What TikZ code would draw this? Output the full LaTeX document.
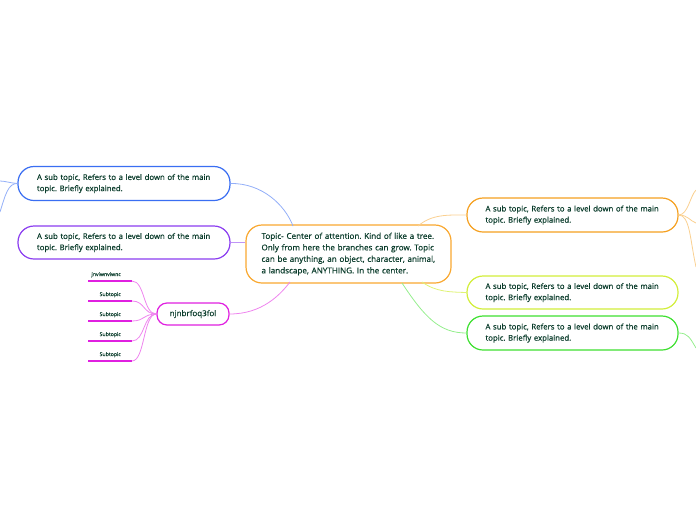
\documentclass[tikz,border=0pt]{standalone}
\usepackage{fontspec}
\setmainfont{Open Sans}[FakeBold=0.5]
\definecolor{txt}{HTML}{0B3D2C}
\definecolor{cblue}{HTML}{3A6EF2}
\definecolor{cpurple}{HTML}{8B3DF0}
\definecolor{ccenter}{HTML}{F9A830}
\definecolor{corange}{HTML}{F5A020}
\definecolor{cyellow}{HTML}{D2EE3A}
\definecolor{cgreen}{HTML}{3EE030}
\definecolor{cmag}{HTML}{E020E0}
\tikzset{
  topicbox/.style={draw, line width=1.2pt, rounded corners=16pt, fill=white, text=txt,
    align=left, inner xsep=0pt, inner ysep=0pt, font=\fontsize{7.8}{11.2}\selectfont},
  link/.style={line width=0.8pt},
  subline/.style={cmag, line width=1.6pt},
}
\begin{document}
\frenchspacing
\begin{tikzpicture}[x=1pt,y=-1pt]
\useasboundingbox (0,0) rectangle (696,520);
% boxes
\node[topicbox, draw=ccenter, minimum width=205pt, minimum height=58pt, text width=174pt,
  font=\fontsize{8.1}{11.5}\selectfont] (center) at (348.5,254)
  {Topic- Center of attention. Kind of like a tree. Only from here the branches can grow. Topic can be anything, an object, character, animal, a landscape, ANYTHING. In the center.};
\node[topicbox, draw=cblue, minimum width=212pt, minimum height=34pt, text width=174pt] (blue) at (124,183.5)
  {A sub topic, Refers to a level down of the main topic. Briefly explained.};
\node[topicbox, draw=cpurple, minimum width=212pt, minimum height=33pt, text width=174pt] (purple) at (124,242.5)
  {A sub topic, Refers to a level down of the main topic. Briefly explained.};
\node[topicbox, draw=corange, minimum width=211pt, minimum height=34pt, text width=174pt] (orange) at (572.5,215)
  {A sub topic, Refers to a level down of the main topic. Briefly explained.};
\node[topicbox, draw=cyellow, minimum width=211pt, minimum height=33pt, text width=174pt] (yellow) at (572.5,292.5)
  {A sub topic, Refers to a level down of the main topic. Briefly explained.};
\node[topicbox, draw=cgreen, minimum width=211pt, minimum height=34pt, text width=174pt] (green) at (572.5,333)
  {A sub topic, Refers to a level down of the main topic. Briefly explained.};
\node[topicbox, draw=cmag, rounded corners=10pt, minimum width=72pt, minimum height=22pt, align=center,
  font=\fontsize{8}{10}\selectfont] (njn) at (193,314) {njnbrfoq3fol};
% subtopics
\foreach \n/\yy/\t in {s1/281/jnviwnviwnc, s2/301/Subtopic, s3/321/Subtopic, s4/341/Subtopic, s5/361/Subtopic}{
  \coordinate (\n l) at (88,\yy);
  \coordinate (\n r) at (132,\yy);
  \draw[subline] (\n l) -- (\n r);
  \node[anchor=south east, inner sep=0pt, text=txt, font=\fontsize{5.2}{6}\selectfont] (\n t) at (121,\yy-3.5) {\t};
}
% coordinates off edge
\coordinate (bl1) at (0,181);
\coordinate (bl2) at (0,212);
\coordinate (or1) at (696,190);
\coordinate (or2) at (696,223);
\coordinate (or3) at (696,267);
\coordinate (gr1) at (696,348);
\coordinate (cb) at (293,226);
\coordinate (cn) at (290,282);
\coordinate (co) at (418,226);
\coordinate (cy) at (422,282);
\coordinate (cg) at (402,283);
% connectors
\draw[link, cblue!55] (cb) .. controls (285,205) and (262,183) .. (blue.east);
\draw[cpurple!55, line width=1.8pt] (purple.east) -- (center.west |- purple.east);
\draw[link, cmag!55] (njn.east) .. controls (262,314) and (280,295) .. (cn);
\draw[link, corange!50] (co) .. controls (432,214) and (448,215) .. (orange.west);
\draw[link, cyellow!70] (cy) .. controls (436,292) and (450,292) .. (yellow.west);
\draw[link, cgreen!55] (cg) .. controls (425,318) and (440,333) .. (green.west);
\foreach \n in {s1,s2,s3,s4,s5}{
  \draw[link, cmag!55] (njn.west) .. controls (143,314) and ([xshift=13pt]\n r) .. (\n r);
}
\draw[link, cblue!55] (blue.west) .. controls (10,183) and (5,181) .. (bl1);
\draw[link, cblue!55] (blue.west) .. controls (8,183) and (5,196) .. (bl2);
\draw[link, corange!50] (orange.east) .. controls (688,215) and (690,196) .. (or1);
\draw[link, corange!50] (orange.east) .. controls (688,215) and (690,221) .. (or2);
\draw[link, corange!50] (orange.east) .. controls (690,215) and (690,240) .. (or3);
\draw[link, cgreen!55] (green.east) .. controls (688,333) and (690,338) .. (gr1);
\end{tikzpicture}
\end{document}
